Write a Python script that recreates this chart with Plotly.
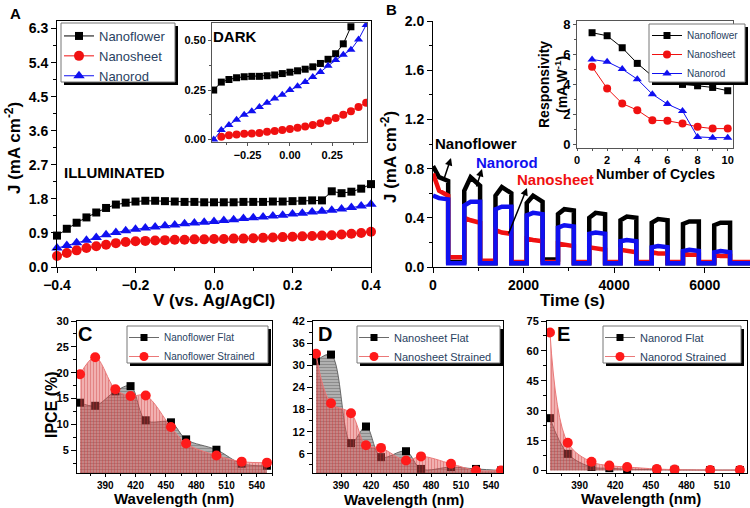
import plotly.graph_objects as go

W, H = 750, 508
FONT = "Liberation Sans"


def fx(p):
    return p / W


def fy(p):
    return 1 - p / H


def bold(size, color="black"):
    return dict(family=FONT, size=size, color=color, weight="bold")


# ---------------- Panel A : illuminated J-V ----------------
bias_v = [-0.400, -0.375, -0.350, -0.325, -0.300, -0.275, -0.250, -0.225, -0.200, -0.175, -0.150,
          -0.125, -0.100, -0.075, -0.050, -0.025, 0.000, 0.025, 0.050, 0.075, 0.100, 0.125,
          0.150, 0.175, 0.200, 0.225, 0.250, 0.275, 0.300, 0.325, 0.350, 0.375, 0.400]
illum_flower = [0.83, 1.01, 1.17, 1.31, 1.44, 1.56, 1.65, 1.70, 1.73, 1.75, 1.75,
                1.74, 1.73, 1.72, 1.72, 1.71, 1.71, 1.71, 1.71, 1.72, 1.72, 1.72,
                1.73, 1.73, 1.74, 1.75, 1.76, 1.76, 2.00, 1.95, 1.99, 2.07, 2.19]
illum_sheet = [0.29, 0.37, 0.44, 0.50, 0.55, 0.59, 0.63, 0.66, 0.68, 0.69, 0.70,
               0.71, 0.72, 0.72, 0.73, 0.73, 0.74, 0.74, 0.75, 0.75, 0.76, 0.77,
               0.78, 0.79, 0.80, 0.81, 0.82, 0.83, 0.84, 0.86, 0.88, 0.90, 0.93]
illum_rod = [0.50, 0.57, 0.64, 0.71, 0.78, 0.85, 0.91, 0.96, 1.00, 1.03, 1.06,
             1.09, 1.11, 1.14, 1.16, 1.18, 1.20, 1.23, 1.25, 1.28, 1.30, 1.32,
             1.35, 1.37, 1.40, 1.42, 1.45, 1.47, 1.50, 1.53, 1.57, 1.61, 1.66]

# Panel A inset : dark J-V
dark_v = [-0.450, -0.405, -0.360, -0.315, -0.270, -0.225, -0.180, -0.135, -0.090, -0.045, 0.000,
          0.045, 0.090, 0.135, 0.180, 0.225, 0.270, 0.315, 0.360, 0.405, 0.450]
dark_flower = [0.250, 0.290, 0.303, 0.312, 0.317, 0.319, 0.319, 0.322, 0.326, 0.333, 0.340,
               0.347, 0.355, 0.367, 0.384, 0.405, 0.433, 0.483, 0.569]
dark_sheet = [None, 0.014, 0.022, 0.026, 0.029, 0.031, 0.034, 0.040, 0.043, 0.048, 0.053,
              0.060, 0.066, 0.074, 0.083, 0.095, 0.109, 0.126, 0.143, 0.164, 0.186]
dark_rod = [0.000, 0.048, 0.074, 0.100, 0.126, 0.143, 0.164, 0.186, 0.207, 0.226, 0.250,
            0.269, 0.290, 0.316, 0.341, 0.372, 0.402, 0.428, 0.453, 0.505, 0.578]

# ---------------- Panel B : chopped photocurrent ----------------
light_on = [0, 690, 1380, 2070, 2760, 3450, 4140, 4830, 5520, 6210]
light_off = [335, 1040, 1730, 2420, 3110, 3800, 4490, 5180, 5870, 6560]
t_final = 7000
# photocurrent at start / middle / end of each illuminated period
flower_start = [0.82, 0.62, 0.58, 0.52, 0.43, 0.40, 0.38, 0.36, 0.35, 0.34]
flower_mid = [0.73, 0.73, 0.65, 0.58, 0.47, 0.44, 0.41, 0.39, 0.37, 0.36]
flower_end = [0.70, 0.66, 0.60, 0.53, 0.46, 0.43, 0.40, 0.38, 0.37, 0.36]
flower_dark = [0.04, 0.03, 0.03, 0.06, 0.03, 0.03, 0.03, 0.03, 0.03, 0.03]
sheet_start = [0.76, 0.40, 0.30, 0.23, 0.19, 0.16, 0.14, 0.12, 0.11, 0.10]
sheet_mid = [0.62, 0.38, 0.28, 0.22, 0.18, 0.15, 0.13, 0.11, 0.10, 0.09]
sheet_end = [0.58, 0.36, 0.27, 0.21, 0.17, 0.14, 0.12, 0.11, 0.10, 0.09]
sheet_dark = [0.08, 0.05, 0.04, 0.04, 0.04, 0.04, 0.04, 0.04, 0.04, 0.04]
rod_start = [0.58, 0.50, 0.47, 0.42, 0.32, 0.27, 0.21, 0.16, 0.13, 0.12]
rod_mid = [0.56, 0.53, 0.49, 0.44, 0.34, 0.28, 0.22, 0.17, 0.14, 0.13]
rod_end = [0.55, 0.53, 0.49, 0.43, 0.33, 0.27, 0.21, 0.16, 0.13, 0.12]
rod_dark = [0.03, 0.03, 0.03, 0.03, 0.03, 0.03, 0.03, 0.03, 0.03, 0.03]

# Panel B inset : responsivity
cycles = [1, 2, 3, 4, 5, 6, 7, 8, 9, 10]
resp_flower = [7.42, 7.22, 6.42, 5.38, 4.53, 4.27, 3.98, 3.89, 3.78, 3.56]
resp_sheet = [5.16, 3.71, 2.71, 2.27, 1.60, 1.56, 1.38, 1.16, 1.04, 1.04]
resp_rod = [5.64, 5.49, 5.00, 4.33, 3.33, 2.67, 2.22, 0.49, 0.44, 0.44]

# ---------------- Panels C, D, E : IPCE ----------------
wavelength = [365, 380, 400, 415, 430, 455, 470, 500, 525, 550]
ipce_flower_flat = [14.2, 13.6, 16.4, 17.4, 10.8, 10.4, 7.1, 5.1, 2.4, 2.0]
ipce_flower_strained = [19.7, 23.0, 16.8, 15.5, 15.6, 9.5, 6.3, 4.0, 2.8, 2.6]
ipce_sheet_flat = [31.1, 32.9, 8.9, 13.4, 5.1, 6.7, 1.9, 2.4, 1.9, 1.5]
ipce_sheet_strained = [33.1, 19.7, 17.0, 8.3, 7.6, 4.2, 5.3, 3.3, 1.5, 1.5]
wavelength_rod = [365, 380, 400, 415, 430, 455, 470, 500, 525]
ipce_rod_flat = [26.3, 8.4, 1.8, 1.2, 0.7, 0.5, 0.4, 0.3, 0.3]
ipce_rod_strained = [69.2, 14.0, 4.4, 2.5, 1.8, 0.8, 0.5, 0.3, 0.3]


def chopped(on, off, s, m, e, dark, t_end):
    t, y = [], []
    for i in range(len(on)):
        if i == 0 and on[0] == 0:
            t.append(on[0]); y.append(s[0])
        else:
            t += [on[i], on[i]]; y += [dark[i - 1], s[i]]
        t += [on[i] + (off[i] - on[i]) * 0.4, off[i], off[i]]
        y += [m[i], e[i], dark[i]]
        nxt = on[i + 1] if i + 1 < len(on) else t_end
        t.append(nxt); y.append(dark[i])
    return t, y


BLACK = "#000000"
RED = "#f01010"
BLUE = "#1010f0"

fig = go.Figure()

# ---- A main
for name, ys, col, sym, sz in [("Nanoflower", illum_flower, BLACK, "square", 8),
                               ("Nanosheet", illum_sheet, RED, "circle", 10),
                               ("Nanorod", illum_rod, BLUE, "triangle-up", 10)]:
    fig.add_trace(go.Scatter(x=bias_v, y=ys, name=name, mode="lines+markers",
                             line=dict(color=col, width=1),
                             marker=dict(symbol=sym, size=sz, color=col),
                             xaxis="x", yaxis="y", legend="legend", cliponaxis=False))

# ---- A inset
for ys, col, sym, sz in [(dark_flower, BLACK, "square", 7),
                         (dark_sheet, RED, "circle", 8),
                         (dark_rod, BLUE, "triangle-up", 8)]:
    fig.add_trace(go.Scatter(x=dark_v[:len(ys)], y=ys, mode="lines+markers", showlegend=False,
                             line=dict(color=col, width=1),
                             marker=dict(symbol=sym, size=sz, color=col),
                             xaxis="x2", yaxis="y2"))

# ---- B main
for s, m, e, d, col in [(flower_start, flower_mid, flower_end, flower_dark, BLACK),
                        (sheet_start, sheet_mid, sheet_end, sheet_dark, RED),
                        (rod_start, rod_mid, rod_end, rod_dark, BLUE)]:
    tt, yy = chopped(light_on, light_off, s, m, e, d, t_final)
    fig.add_trace(go.Scatter(x=tt, y=yy, mode="lines", showlegend=False,
                             line=dict(color=col, width=4.5),
                             xaxis="x3", yaxis="y3"))

# ---- B inset
for name, ys, col, sym, sz in [("Nanoflower", resp_flower, BLACK, "square", 7),
                               ("Nanosheet", resp_sheet, RED, "circle", 8),
                               ("Nanorod", resp_rod, BLUE, "triangle-up", 8)]:
    fig.add_trace(go.Scatter(x=cycles, y=ys, name=name, mode="lines+markers",
                             line=dict(color=col, width=1),
                             marker=dict(symbol=sym, size=sz, color=col),
                             xaxis="x4", yaxis="y4", legend="legend2"))

# ---- C, D, E
GRAY_LINE = "rgba(90,90,90,0.9)"
PINK_LINE = "rgba(235,120,120,1)"
panels = [("x5", "y5", "legend3", "Nanoflower", wavelength, ipce_flower_flat, ipce_flower_strained),
          ("x6", "y6", "legend4", "Nanosheet", wavelength, ipce_sheet_flat, ipce_sheet_strained),
          ("x7", "y7", "legend5", "Nanorod", wavelength_rod, ipce_rod_flat, ipce_rod_strained)]
for xa, ya, lg, base, wl, flat, strained in panels:
    fig.add_trace(go.Scatter(x=wl, y=flat, mode="lines+markers", showlegend=False,
                             line=dict(color=GRAY_LINE, width=1, shape="spline", smoothing=1),
                             fill="tozeroy", fillcolor="rgba(110,110,110,0.55)",
                             fillpattern=dict(shape="-", fgcolor="rgba(70,70,70,1)", fgopacity=0.35,
                                              size=3, solidity=0.35),
                             marker=dict(symbol="square", size=8, color="black"),
                             xaxis=xa, yaxis=ya))
    fig.add_trace(go.Scatter(x=wl, y=strained, mode="lines+markers", showlegend=False,
                             line=dict(color=PINK_LINE, width=1, shape="spline", smoothing=1),
                             fill="tozeroy", fillcolor="rgba(225,80,80,0.45)",
                             fillpattern=dict(shape="|", fgcolor="rgba(200,50,50,1)", fgopacity=0.35,
                                              size=3, solidity=0.35),
                             marker=dict(symbol="circle", size=10, color="#ff1a1a"),
                             xaxis=xa, yaxis=ya))
    fig.add_trace(go.Scatter(x=[None], y=[None], name=base + " Flat", mode="lines+markers",
                             line=dict(color=GRAY_LINE, width=1),
                             marker=dict(symbol="square", size=7, color="black"),
                             xaxis=xa, yaxis=ya, legend=lg))
    fig.add_trace(go.Scatter(x=[None], y=[None], name=base + " Strained", mode="lines+markers",
                             line=dict(color=PINK_LINE, width=1),
                             marker=dict(symbol="circle", size=9, color="#ff1a1a"),
                             xaxis=xa, yaxis=ya, legend=lg))


def axis(dom, rng, tick0, dtick, minor_dtick, fmt=None, size=13, anchor=None, mirror=True,
         linecolor="black", ticks="outside", ticklen=5):
    d = dict(domain=dom, range=rng, tickmode="linear", tick0=tick0, dtick=dtick,
             ticks=ticks, ticklen=ticklen, tickwidth=1, tickcolor=linecolor,
             showline=True, linecolor=linecolor, linewidth=1, mirror=mirror,
             showgrid=False, zeroline=False, tickfont=bold(size), anchor=anchor,
             automargin=False,
             minor=dict(tickmode="linear", tick0=tick0, dtick=minor_dtick, ticks=ticks,
                        ticklen=max(2, ticklen - 2), tickcolor=linecolor, showgrid=False))
    if fmt:
        d["tickformat"] = fmt
    return d


yC = [fy(473), fy(321)]
layout = dict(
    width=W, height=H, margin=dict(l=0, r=0, t=0, b=0, pad=0, autoexpand=False),
    paper_bgcolor="white", plot_bgcolor="white", showlegend=True,
    xaxis=axis([fx(57), fx(371)], [-0.4, 0.4], -0.4, 0.2, 0.1, ".1f", 14, "y"),
    yaxis=axis([fy(267), fy(21)], [0, 6.5], 0, 0.9, 0.45, ".1f", 14, "x"),
    xaxis2=axis([fx(212), fx(367)], [-0.46, 0.455], 0, 0.25, 0.125, ".2f", 11, "y2",
                linecolor="#555", ticklen=3),
    yaxis2=axis([fy(142), fy(23)], [-0.012, 0.588], 0, 0.25, 0.125, ".2f", 11, "x2",
                linecolor="#555", ticklen=3),
    xaxis3=axis([fx(433), 1.0], [0, 7000], 0, 2000, 1000, None, 14, "y3", mirror=False),
    yaxis3=axis([fy(267), fy(21)], [0, 2.0], 0, 0.4, 0.2, ".1f", 14, "x3", mirror=False),
    xaxis4=axis([fx(577), fx(733)], [0, 10.35], 0, 2, 1, None, 11, "y4", linecolor="#555",
                ticklen=2),
    yaxis4=axis([fy(148), fy(21)], [-0.25, 8.2], 0, 2, 1, None, 13, "x4", linecolor="#555",
                ticklen=3),
    xaxis5=axis([fx(77), fx(272)], [362, 555], 390, 30, 15, None, 10, "y5", ticklen=3),
    yaxis5=axis(yC, [0.6, 30], 5, 5, 2.5, None, 11, "x5"),
    xaxis6=axis([fx(313), fx(503)], [362, 552], 390, 30, 15, None, 10, "y6", ticklen=3),
    yaxis6=axis(yC, [0.8, 42], 6, 6, 3, None, 11, "x6"),
    xaxis7=axis([fx(547), fx(747)], [362.5, 531], 390, 30, 15, None, 10, "y7", ticklen=3),
    yaxis7=axis(yC, [-1.2, 75], 0, 15, 7.5, None, 11, "x7"),
)

leg_common = dict(bgcolor="rgba(0,0,0,0)", borderwidth=0, xanchor="left", yanchor="top",
                  itemwidth=30, tracegroupgap=0)
layout["legend"] = dict(leg_common, x=fx(59), y=fy(21), font=dict(family=FONT, size=13))
layout["legend2"] = dict(leg_common, x=fx(647), y=fy(21), font=dict(family=FONT, size=10))
layout["legend3"] = dict(leg_common, x=fx(124), y=fy(323), font=dict(family=FONT, size=10))
layout["legend4"] = dict(leg_common, x=fx(354), y=fy(323), font=dict(family=FONT, size=11))
layout["legend5"] = dict(leg_common, x=fx(600), y=fy(323), font=dict(family=FONT, size=11))
fig.update_layout(**layout)

# legend frames with drop shadow
shapes = []
for (x0, y0, x1, y1) in [(61, 23, 175, 82), (649, 24, 745, 82), (127, 326, 268, 363),
                         (357, 326, 500, 363), (603, 326, 741, 363)]:
    shapes.append(dict(type="rect", xref="paper", yref="paper", x0=fx(x0 + 3), x1=fx(x1 + 3),
                       y0=fy(y1 + 3), y1=fy(y0 + 3), fillcolor="black", line=dict(width=0),
                       layer="above"))
    shapes.append(dict(type="rect", xref="paper", yref="paper", x0=fx(x0), x1=fx(x1),
                       y0=fy(y1), y1=fy(y0), fillcolor="white", line=dict(color="#777", width=1),
                       layer="above"))
fig.update_layout(shapes=shapes)

ann = []


def text(x, y, s, font, angle=0, xanchor="center"):
    ann.append(dict(x=fx(x), y=fy(y), xref="paper", yref="paper", text=s, showarrow=False,
                    font=font, textangle=angle, xanchor=xanchor, yanchor="middle"))


# panel letters
text(15, 14, "A", bold(15))
text(391, 10, "B", bold(15))
text(85, 334, "C", bold(20))
text(325, 334, "D", bold(20))
text(563, 334, "E", bold(20))
# axis titles
text(214, 300, "V (vs. Ag/AgCl)", bold(17))
text(13, 148, "J (mA cm<sup>-2</sup>)", bold(17), -90)
text(572, 300, "Time (s)", bold(17))
text(389, 157, "J (mA cm<sup>-2</sup>)", bold(17), -90)
text(51, 405, "IPCE (%)", bold(16), -90)
text(174, 498, "Wavelength (nm)", bold(15))
text(404, 499, "Wavelength (nm)", bold(15))
text(641, 498, "Wavelength (nm)", bold(15))
text(544, 85, "Responsivity", bold(14), -90)
text(561, 85, "(mA W<sup>-1</sup>)", bold(14), -90)
text(655, 174, "Number of Cycles", bold(14))
# in-plot labels
text(234, 37, "DARK", bold(15))
text(114, 172, "ILLUMINATED", bold(15))
text(476, 144, "Nanoflower", bold(15))
text(507, 162, "Nanorod", bold(15, BLUE))
text(555, 179, "Nanosheet", bold(15, RED))

# arrows (head, tail)
for (hx, hy, tx, ty) in [(451, 158, 443, 182), (482, 169, 476, 188), (527, 188, 508, 235)]:
    ann.append(dict(x=fx(hx), y=fy(hy), xref="paper", yref="paper", text="", showarrow=True,
                    ax=tx - hx, ay=ty - hy, axref="pixel", ayref="pixel",
                    arrowhead=2, arrowsize=1, arrowwidth=1.5, arrowcolor="black", standoff=0))
fig.update_layout(annotations=ann)

# remove the browser's default 8 px page margin so the figure sits at the window origin
fig.write_html("out.html", config={"displayModeBar": False},
               post_script="document.body.style.margin='0';")
